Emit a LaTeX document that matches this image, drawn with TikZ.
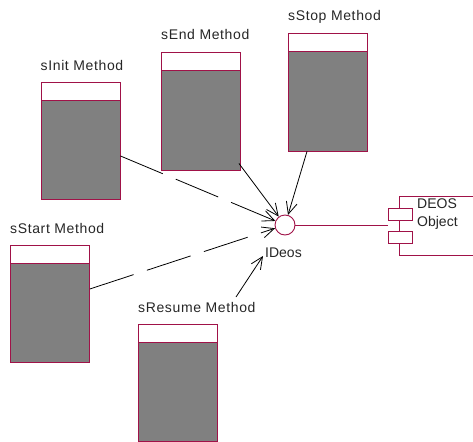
\documentclass[tikz,border=0pt]{standalone}
\usepackage{fontspec}
\setmainfont{Liberation Sans}
\usetikzlibrary{arrows.meta,calc}
\definecolor{crim}{RGB}{160,18,72}
\definecolor{bodygray}{RGB}{128,128,128}
\begin{document}
\begin{tikzpicture}[x=1pt,y=-1pt,
  lbl/.style={inner sep=0pt,anchor=west,font=\fontsize{14}{16}\selectfont\addfontfeatures{LetterSpace=4.5},text=black!85},
  plain/.style={inner sep=0pt,anchor=west,font=\fontsize{14}{16}\selectfont,text=black!85},
  hdr/.style={draw=crim,fill=white,line width=0.9pt,minimum width=79pt,minimum height=18pt,inner sep=0pt,anchor=north west},
  bdy/.style={draw=crim,fill=bodygray,line width=0.9pt,minimum width=79pt,minimum height=99pt,inner sep=0pt,anchor=north west},
  tab/.style={draw=crim,fill=white,line width=0.9pt,minimum width=24pt,minimum height=12pt,inner sep=0pt,anchor=north west},
  arr/.style={draw=black,line width=0.8pt,-{Straight Barb[length=12pt,width=11pt,line width=0.8pt]}},
  dsh/.style={arr,dash pattern=on 46pt off 14pt}]
\useasboundingbox (0,0) rectangle (473,441);
% method boxes
\node[lbl] (initL) at (40.5,65) {sInit Method};
\node[hdr] (initH) at (40.5,82) {};
\node[bdy] (initB) at (40.5,100) {};
\node[lbl] (endL) at (161,34) {sEnd Method};
\node[hdr] (endH) at (161,52.5) {};
\node[bdy] (endB) at (161,70.5) {};
\node[lbl] (stopL) at (288,17) {sStop Method};
\node[hdr] (stopH) at (288,33.5) {};
\node[bdy] (stopB) at (288,51.5) {};
\node[lbl] (startL) at (10,228) {sStart Method};
\node[hdr] (startH) at (10,245) {};
\node[bdy] (startB) at (10,263) {};
\node[lbl] (resL) at (138,307) {sResume Method};
\node[hdr] (resH) at (138,324) {};
\node[bdy] (resB) at (138,342) {};
% interface
\node[draw=crim,fill=white,circle,line width=0.9pt,minimum size=20pt,inner sep=0pt] (ideos) at (285,225) {};
\node[plain] (ideosL) at (265,253) {IDeos};
% component
\node[draw=crim,fill=white,line width=0.9pt,minimum width=73.5pt,minimum height=59pt,inner sep=0pt,anchor=north west] (deos) at (399,196) {};
\node[tab] (tab1) at (388,208) {};
\node[tab] (tab2) at (388,231) {};
\node[plain] (deosT1) at (417,204) {DEOS};
\node[plain] (deosT2) at (417,223) {Object};
\draw[crim,line width=0.9pt] (ideos.east) -- (tab1.west |- ideos.east);
% connectors
\coordinate (resFrom) at (236,297);
\coordinate (resTip) at (263,256);
\draw[dsh] ([yshift=-6pt]initB.east) -- (ideos);
\draw[dsh] ([yshift=24pt]startB.east) -- (ideos);
\draw[arr] ([shift={(-2pt,7pt)}]endB.south east) -- (ideos);
\draw[arr] ([xshift=19pt]stopB.south west) -- (ideos);
\draw[arr] (resFrom) -- (resTip);
\end{tikzpicture}
\end{document}
